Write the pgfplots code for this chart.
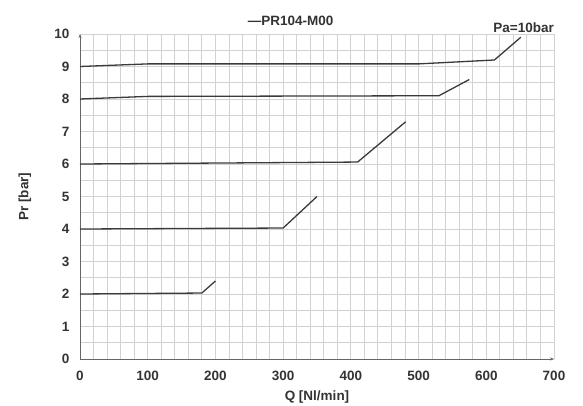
\documentclass[border=0pt]{standalone}
\usepackage{fontspec}
\setmainfont{Liberation Sans}
\usepackage{pgfplots}
\usetikzlibrary{arrows.meta}
\pgfplotsset{compat=1.18}
\definecolor{curve}{HTML}{3A3A3A}
\definecolor{gridc}{HTML}{D2D2D2}
\definecolor{txt}{HTML}{333333}
\begin{document}
\begin{tikzpicture}[x=1pt,y=1pt]
\begin{axis}[name=ax,
  scale only axis, width=474pt, height=325pt,
  xmin=0, xmax=700, ymin=0, ymax=10,
  axis x line=bottom, axis y line=left,
  axis line style={draw=gray!80!black, line width=0.6pt, -{Stealth[length=4pt,width=3pt]}},
  xtick distance=100, ytick distance=1,
  minor x tick num=4, minor y tick num=1,
  grid=both,
  major grid style={draw=gridc, line width=0.9pt},
  minor grid style={draw=gridc, line width=0.9pt},
  major tick length=0pt, minor tick length=0pt,
  tick label style={font=\fontsize{13.5}{15}\selectfont\bfseries, text=txt},
  /pgf/number format/assume math mode=true,
  xticklabel style={yshift=-9pt},
  yticklabel style={xshift=-7pt},
  clip=false,
]
\addplot[curve, line width=1.3pt] coordinates {(0,9) (100,9.08) (500,9.08) (612,9.2) (651,9.9)};
\addplot[curve, line width=1.3pt] coordinates {(0,8) (100,8.08) (530,8.1) (575,8.6)};
\addplot[curve, line width=1.3pt] coordinates {(0,6) (410,6.06) (481,7.3)};
\addplot[curve, line width=1.3pt] coordinates {(0,4) (300,4.03) (350,5)};
\addplot[curve, line width=1.3pt] coordinates {(0,2) (180,2.03) (200,2.4)};
\node[anchor=south east, inner sep=0pt, font=\fontsize{13.5}{15}\selectfont\bfseries, text=txt] at (axis cs:700,10.03) {Pa=10bar};
\node[anchor=center, inner sep=0pt, font=\fontsize{13.5}{15}\selectfont\bfseries, text=txt] at (axis cs:311,10.4) {\textemdash PR104-M00};
\end{axis}
\node[font=\fontsize{13.5}{15}\selectfont\bfseries, text=txt, inner sep=0pt] at ([yshift=-38pt]ax.south) {Q [Nl/min]};
\node[font=\fontsize{13.5}{15}\selectfont\bfseries, text=txt, inner sep=0pt, rotate=90] at ([xshift=-55pt]ax.west) {Pr [bar]};
\pgfresetboundingbox
\path[use as bounding box] ([xshift=-80pt,yshift=-46pt]ax.south west) rectangle ([xshift=29pt,yshift=34pt]ax.north east);
\end{tikzpicture}
\end{document}
